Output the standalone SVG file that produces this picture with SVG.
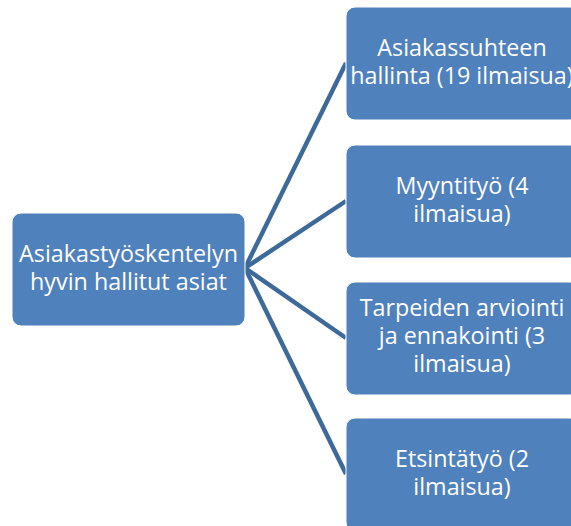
<svg xmlns="http://www.w3.org/2000/svg" width="571" height="526" viewBox="0 0 571 526">
<style>
.node{fill:#4F81BD;stroke:#FFFFFF;stroke-width:1}
.t{font-family:"Open Sans","Liberation Sans",sans-serif;font-size:23.3px;fill:#FFFFFF;text-anchor:middle;font-variant-ligatures:none}
.c{stroke:#3E6A9A;stroke-width:4.5;fill:none;stroke-linecap:butt}
</style>
<rect width="571" height="526" fill="#FFFFFF"/>
<g id="connectors">
<line class="c" x1="245" y1="268" x2="346" y2="63"/>
<line class="c" x1="245" y1="268" x2="346" y2="201"/>
<line class="c" x1="245" y1="268" x2="346" y2="338"/>
<line class="c" x1="245" y1="268" x2="346" y2="474"/>
</g>
<g id="root">
<rect class="node" x="12" y="213" width="233" height="113" rx="9"/>
<text class="t" x="128.5" y="262">Asiakastyöskentelyn</text>
<text class="t" x="128.5" y="290">hyvin hallitut asiat</text>
</g>
<g id="n1">
<rect class="node" x="346" y="7" width="233" height="113" rx="9"/>
<text class="t" x="462" y="56">Asiakassuhteen</text>
<text class="t" x="462" y="84">hallinta (19 ilmaisua)</text>
</g>
<g id="n2">
<rect class="node" x="346" y="145" width="233" height="113" rx="9"/>
<text class="t" x="462" y="194">Myyntityö (4</text>
<text class="t" x="462" y="222">ilmaisua)</text>
</g>
<g id="n3">
<rect class="node" x="346" y="282" width="233" height="113" rx="9"/>
<text class="t" x="462" y="316">Tarpeiden arviointi</text>
<text class="t" x="462" y="344">ja ennakointi (3</text>
<text class="t" x="462" y="372">ilmaisua)</text>
</g>
<g id="n4">
<rect class="node" x="346" y="418" width="233" height="113" rx="9"/>
<text class="t" x="462" y="467">Etsintätyö (2</text>
<text class="t" x="462" y="495">ilmaisua)</text>
</g>
</svg>
